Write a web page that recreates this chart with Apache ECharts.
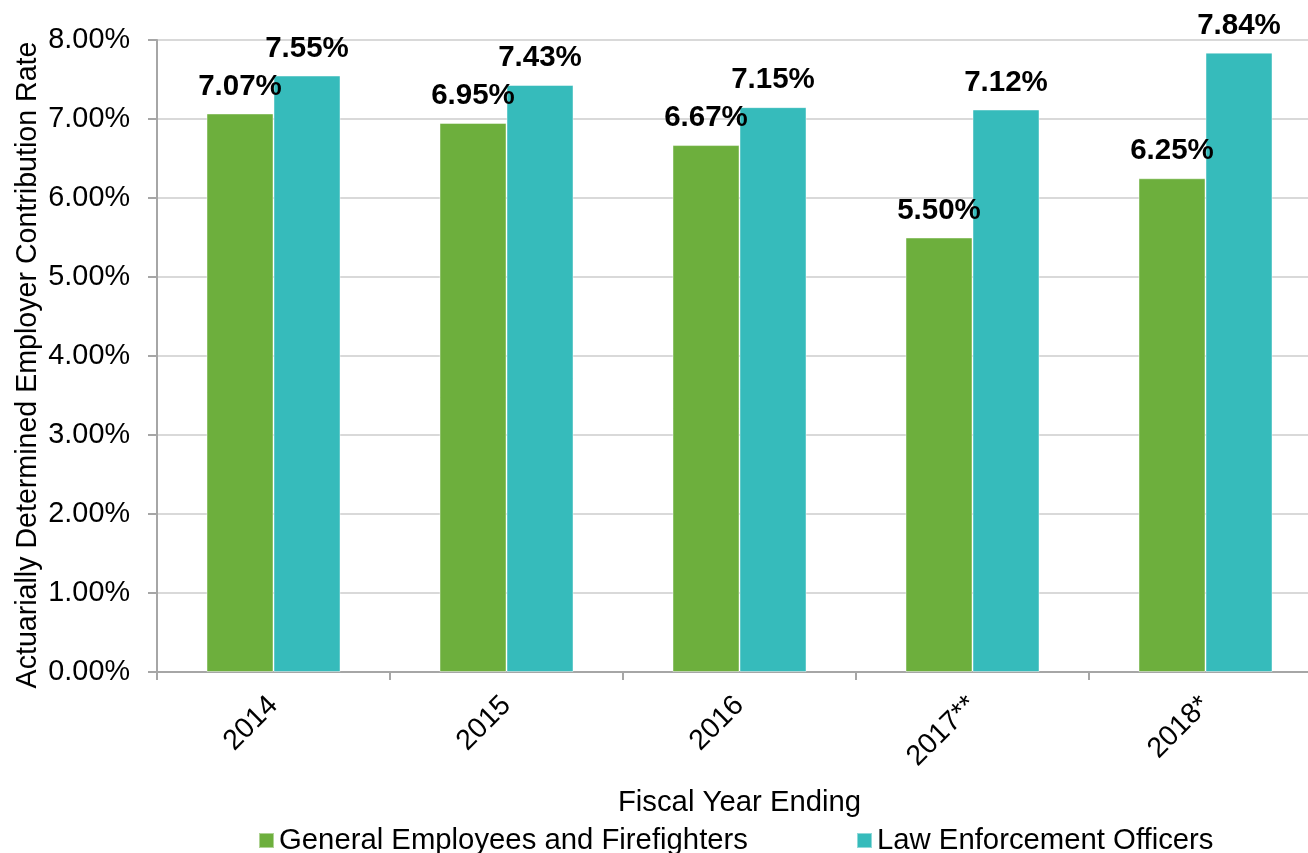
<!DOCTYPE html>
<html>
<head>
<meta charset="utf-8">
<script src="https://cdn.jsdelivr.net/npm/echarts@6/dist/echarts.min.js"></script>
<style>
  html, body { margin: 0; padding: 0; background: #ffffff; }
  #chart { width: 1308px; height: 853px; }
</style>
</head>
<body>
<div id="chart"></div>
<script>
// Fiscal years shown on the category axis
const fiscalYears = ['2014', '2015', '2016', '2017**', '2018*'];

// Actuarially determined employer contribution rates (%)
const generalEmployeesRates = [7.07, 6.95, 6.67, 5.50, 6.25];
const lawEnforcementRates = [7.55, 7.43, 7.15, 7.12, 7.84];

// Value axis ticks (%)
const rateTicks = [0, 1, 2, 3, 4, 5, 6, 7, 8];

const seriesNames = ['General Employees and Firefighters', 'Law Enforcement Officers'];
const seriesColors = ['#6daf3d', '#36bbbb'];

const FONT = '"Liberation Sans", Arial, sans-serif';
const pct = v => Number(v).toFixed(2) + '%';

const chart = echarts.init(document.getElementById('chart'), null, { renderer: 'canvas' });

const labelStyle = {
  show: true,
  position: 'top',
  distance: 12,
  formatter: p => pct(p.value),
  fontFamily: FONT,
  fontSize: 29.5,
  fontWeight: 'bold',
  color: '#000000'
};

chart.setOption({
  animation: false,
  backgroundColor: '#ffffff',
  textStyle: { fontFamily: FONT },
  // the plot area runs a little past the right edge of the canvas
  grid: {
    left: 157, top: 40, height: 632, width: 1165,
    containLabel: false,
    outerBoundsMode: 'none'
  },
  legend: {
    data: seriesNames,
    left: 253,
    top: 821,
    itemWidth: 15,
    itemHeight: 15,
    itemGap: 108,
    icon: 'rect',
    textStyle: { fontFamily: FONT, fontSize: 29.3, color: '#000000' }
  },
  xAxis: {
    type: 'category',
    data: fiscalYears,
    name: 'Fiscal Year Ending',
    nameLocation: 'middle',
    nameGap: 116,
    nameMoveOverlap: false,
    nameTextStyle: { fontFamily: FONT, fontSize: 29.3, color: '#000000' },
    axisLine: { lineStyle: { color: '#a6a6a6', width: 2 } },
    axisTick: { show: true, length: 8, lineStyle: { color: '#a6a6a6', width: 2 } },
    axisLabel: {
      rotate: 45,
      margin: 29,
      fontFamily: FONT,
      fontSize: 28.5,
      color: '#000000'
    }
  },
  yAxis: {
    type: 'value',
    min: rateTicks[0],
    max: rateTicks[rateTicks.length - 1],
    interval: 1,
    name: 'Actuarially Determined Employer Contribution Rate',
    nameLocation: 'middle',
    nameGap: 114,
    nameMoveOverlap: false,
    nameTextStyle: { fontFamily: FONT, fontSize: 28.6, color: '#000000', padding: [0, 18, 0, 0] },
    axisLine: { show: true, lineStyle: { color: '#a6a6a6', width: 2 } },
    axisTick: { show: true, length: 9, lineStyle: { color: '#a6a6a6', width: 2 } },
    splitLine: { show: true, lineStyle: { color: '#d9d9d9', width: 2 } },
    axisLabel: {
      margin: 27,
      formatter: v => pct(v),
      fontFamily: FONT,
      fontSize: 28.8,
      color: '#000000'
    }
  },
  series: [
    {
      name: seriesNames[0],
      type: 'bar',
      data: generalEmployeesRates,
      barWidth: 67,
      barGap: '0%',
      itemStyle: { color: seriesColors[0], borderColor: 'rgba(255,255,255,0.45)', borderWidth: 1 },
      label: labelStyle
    },
    {
      name: seriesNames[1],
      type: 'bar',
      data: lawEnforcementRates,
      barWidth: 67,
      barGap: '0%',
      itemStyle: { color: seriesColors[1], borderColor: 'rgba(255,255,255,0.45)', borderWidth: 1 },
      label: labelStyle
    }
  ]
});
</script>
</body>
</html>
